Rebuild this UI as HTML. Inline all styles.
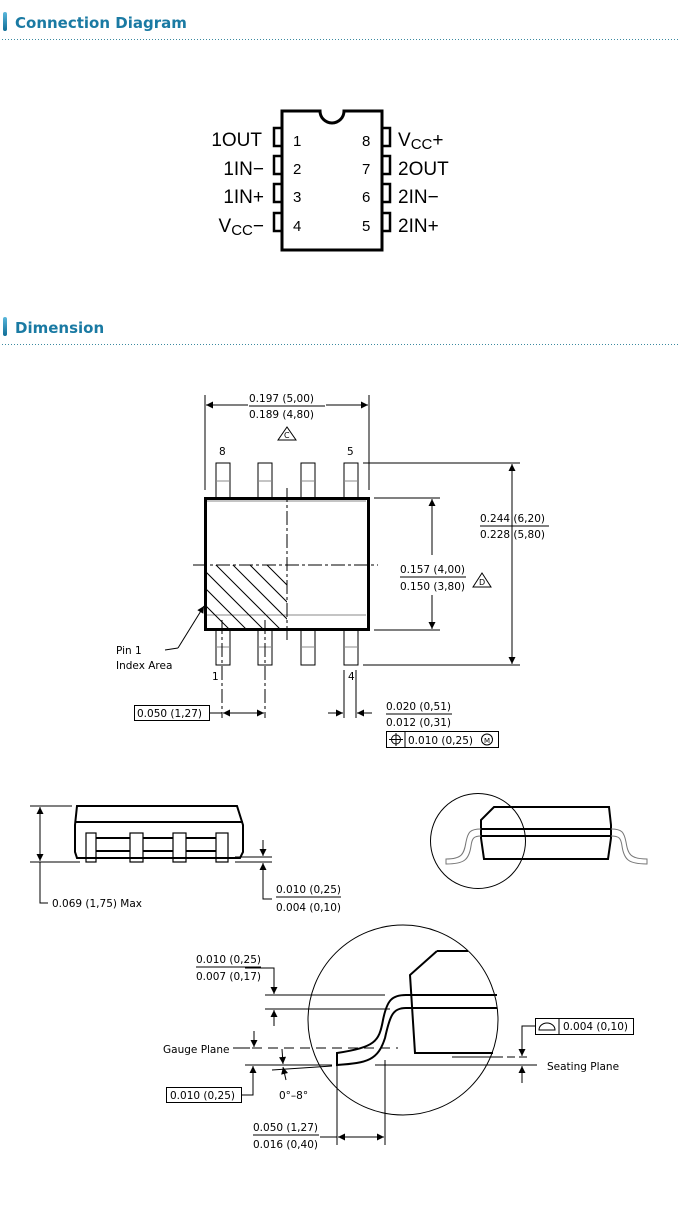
<!DOCTYPE html>
<html><head><meta charset="utf-8"><style>
html,body{margin:0;padding:0;background:#fff;}
svg{display:block;}
.h{font-family:"DejaVu Sans","Liberation Sans",sans-serif;font-weight:bold;font-size:15px;fill:#1a7aa3;}
.p{font-family:"Liberation Sans",sans-serif;font-size:19px;fill:#000;}
.n{font-family:"Liberation Sans",sans-serif;font-size:15px;fill:#000;}
.t{font-family:"DejaVu Sans","Liberation Sans",sans-serif;font-size:10.5px;fill:#000;}
</style></head><body>
<svg width="680" height="1213" viewBox="0 0 680 1213" xmlns="http://www.w3.org/2000/svg">
<defs>
<marker id="a" viewBox="0 0 10 10" refX="10" refY="5" markerWidth="9" markerHeight="7" orient="auto-start-reverse" markerUnits="userSpaceOnUse"><path d="M0,0 L10,5 L0,10 z" fill="#000"/></marker>
<linearGradient id="g" x1="0" x2="0" y1="0" y2="1"><stop offset="0" stop-color="#5bb8dc"/><stop offset="1" stop-color="#0f6d96"/></linearGradient>
<clipPath id="hc"><rect x="207" y="565" width="80" height="63"/></clipPath>
</defs>
<!-- headers -->
<rect x="3" y="12" width="4" height="19" rx="2" fill="url(#g)"/>
<text x="15" y="28" class="h">Connection Diagram</text>
<line x1="2" y1="39.5" x2="680" y2="39.5" stroke="#3c8aa0" stroke-dasharray="1,2"/>
<rect x="3" y="317" width="4" height="19" rx="2" fill="url(#g)"/>
<text x="15" y="333" class="h">Dimension</text>
<line x1="2" y1="344.5" x2="680" y2="344.5" stroke="#3c8aa0" stroke-dasharray="1,2"/>

<!-- DIP -->
<g stroke="#000" fill="none" stroke-width="3">
<path d="M282,111 H320 A12,12 0 0 0 344,111 H382 V250 H282 Z"/>
<rect x="274" y="128" width="8" height="18" stroke-width="2.5"/>
<rect x="274" y="156" width="8" height="18" stroke-width="2.5"/>
<rect x="274" y="184" width="8" height="18" stroke-width="2.5"/>
<rect x="274" y="213" width="8" height="18" stroke-width="2.5"/>
<rect x="382" y="128" width="8" height="18" stroke-width="2.5"/>
<rect x="382" y="156" width="8" height="18" stroke-width="2.5"/>
<rect x="382" y="184" width="8" height="18" stroke-width="2.5"/>
<rect x="382" y="213" width="8" height="18" stroke-width="2.5"/>
</g>
<g class="n"><text x="293" y="146">1</text><text x="293" y="174">2</text><text x="293" y="202">3</text><text x="293" y="231">4</text>
<text x="362" y="146">8</text><text x="362" y="174">7</text><text x="362" y="202">6</text><text x="362" y="231">5</text></g>
<g class="p" text-anchor="end"><text x="262" y="146">1OUT</text><text x="264" y="175">1IN−</text><text x="264" y="203">1IN+</text>
<text x="264" y="232">V<tspan font-size="15" dy="3">CC</tspan><tspan dy="-3">−</tspan></text></g>
<g class="p"><text x="398" y="146">V<tspan font-size="15" dy="3">CC</tspan><tspan dy="-3">+</tspan></text><text x="398" y="175">2OUT</text><text x="398" y="203">2IN−</text><text x="398" y="232">2IN+</text></g>

<!-- top view -->
<g stroke="#000" fill="none" stroke-width="1">
<rect x="216" y="463" width="14" height="35"/><rect x="258" y="463" width="14" height="35"/><rect x="301" y="463" width="14" height="35"/><rect x="344" y="463" width="14" height="35"/>
<rect x="216" y="630" width="14" height="35"/><rect x="258" y="630" width="14" height="35"/><rect x="301" y="630" width="14" height="35"/><rect x="344" y="630" width="14" height="35"/>
<g stroke="#888"><line x1="216" y1="481" x2="230" y2="481"/><line x1="258" y1="481" x2="272" y2="481"/><line x1="301" y1="481" x2="315" y2="481"/><line x1="344" y1="481" x2="358" y2="481"/>
<line x1="216" y1="647" x2="230" y2="647"/><line x1="258" y1="647" x2="272" y2="647"/><line x1="301" y1="647" x2="315" y2="647"/><line x1="344" y1="647" x2="358" y2="647"/>
<path d="M207,501 H366 M207,615 H366"/></g>
<g clip-path="url(#hc)" stroke="#000"><path d="M160,560 l80,80 M177,560 l80,80 M194,560 l80,80 M211,560 l80,80 M228,560 l80,80 M245,560 l80,80 M262,560 l80,80"/></g>
<rect x="205.5" y="498.5" width="163" height="131" stroke-width="3"/>
<line x1="287" y1="488" x2="287" y2="640" stroke-dasharray="14,3,3,3"/>
<line x1="193" y1="565" x2="378" y2="565" stroke-dasharray="14,3,3,3"/>
<line x1="222" y1="620" x2="222" y2="718" stroke-dasharray="14,3,3,3"/>
<line x1="265" y1="620" x2="265" y2="718" stroke-dasharray="14,3,3,3"/>
<!-- dims -->
<line x1="205" y1="395" x2="205" y2="490"/><line x1="369" y1="395" x2="369" y2="490"/>
<line x1="206" y1="405" x2="248" y2="405" marker-start="url(#a)"/><line x1="326" y1="405" x2="368" y2="405" marker-end="url(#a)"/>
<line x1="249" y1="406" x2="325" y2="406"/>
<path d="M278,440 L287,427 L296,440 Z"/>
<line x1="363" y1="463" x2="520" y2="463"/><line x1="363" y1="665" x2="520" y2="665"/>
<line x1="512" y1="464" x2="512" y2="664" marker-start="url(#a)" marker-end="url(#a)"/>
<line x1="480" y1="526" x2="549" y2="526"/>
<line x1="374" y1="498" x2="440" y2="498"/><line x1="374" y1="630" x2="440" y2="630"/>
<line x1="432" y1="499" x2="432" y2="555" marker-start="url(#a)"/><line x1="432" y1="595" x2="432" y2="629" marker-end="url(#a)"/>
<line x1="400" y1="577" x2="466" y2="577"/>
<path d="M473,587 L482,573 L491,587 Z"/>
<line x1="178" y1="648" x2="204" y2="606" marker-end="url(#a)"/><line x1="165" y1="650" x2="178" y2="648"/>
<line x1="209" y1="713" x2="222" y2="713"/>
<line x1="223" y1="713" x2="264" y2="713" marker-start="url(#a)" marker-end="url(#a)"/>
<line x1="344" y1="670" x2="344" y2="718"/><line x1="356" y1="670" x2="356" y2="718"/>
<line x1="328" y1="713" x2="343" y2="713" marker-end="url(#a)"/><line x1="357" y1="713" x2="372" y2="713" marker-start="url(#a)"/>
<line x1="386" y1="714" x2="452" y2="714"/>
<rect x="134.5" y="705.5" width="75" height="15"/>
<rect x="386.5" y="731.5" width="112" height="16"/><line x1="405" y1="731" x2="405" y2="747"/>
<circle cx="396" cy="739.5" r="4.5"/><line x1="389" y1="739.5" x2="403" y2="739.5"/><line x1="396" y1="733" x2="396" y2="746"/>
<circle cx="487" cy="739.5" r="5.5"/>
</g>
<g class="t">
<text x="249" y="402">0.197 (5,00)</text><text x="249" y="418">0.189 (4,80)</text>
<text x="284" y="438" font-size="8">C</text><text x="479" y="585" font-size="8">D</text>
<text x="219" y="455">8</text><text x="347" y="455">5</text>
<text x="480" y="522">0.244 (6,20)</text><text x="480" y="538">0.228 (5,80)</text>
<text x="400" y="573">0.157 (4,00)</text><text x="400" y="590">0.150 (3,80)</text>
<text x="116" y="654">Pin 1</text><text x="116" y="669">Index Area</text>
<text x="212" y="680">1</text><text x="348" y="680">4</text>
<text x="137" y="717">0.050 (1,27)</text>
<text x="386" y="710">0.020 (0,51)</text><text x="386" y="726">0.012 (0,31)</text>
<text x="408" y="744">0.010 (0,25)</text><text x="484" y="743" font-size="7">M</text>
</g>

<!-- side view -->
<g stroke="#000" fill="none">
<g stroke-width="1.2">
<rect x="86" y="833" width="10" height="29"/><rect x="130" y="833" width="13" height="29"/><rect x="173" y="833" width="13" height="29"/><rect x="216" y="833" width="12" height="29"/>
</g>
<g stroke-width="2">
<path d="M77,806 H237 L243,825 V852 L240,858 H77 L75,852 V825 Z"/>
<line x1="76" y1="822" x2="243" y2="822"/>
<line x1="96" y1="851" x2="130" y2="851"/><line x1="143" y1="851" x2="173" y2="851"/><line x1="186" y1="851" x2="216" y2="851"/>
<line x1="96" y1="880" x2="96" y2="880"/>
<line x1="96" y1="838" x2="130" y2="838"/><line x1="143" y1="838" x2="173" y2="838"/><line x1="186" y1="838" x2="216" y2="838"/>
</g>
<line x1="30" y1="806" x2="72" y2="806"/><line x1="30" y1="862" x2="80" y2="862"/>
<line x1="40" y1="807" x2="40" y2="861" marker-start="url(#a)" marker-end="url(#a)"/>
<path d="M40,862 V903 H48"/>
<line x1="235" y1="857" x2="272" y2="857"/><line x1="235" y1="862" x2="272" y2="862"/>
<line x1="263" y1="840" x2="263" y2="856" marker-end="url(#a)"/>
<line x1="263" y1="880" x2="263" y2="863" marker-end="url(#a)"/>
<path d="M263,880 V899 H272"/>
<line x1="276" y1="897" x2="341" y2="897"/>
<!-- right side -->
<circle cx="478" cy="841" r="47.5"/>
<path d="M494,807 H609 L611,825 V838 L608,859 H484 L481,838 V820 Z" stroke-width="2"/>
<line x1="481" y1="829" x2="611" y2="829" stroke-width="2"/><line x1="481" y1="836" x2="611" y2="836" stroke-width="2"/>
<path d="M481,829 C470,829 468,832 466,842 C464,854 462,859 446,859 V864 C464,864 469,860 471,846 C472,838 474,836 481,836" stroke="#777"/>
<path d="M611,829 C622,829 624,832 626,842 C628,854 630,859 647,859 V864 C629,864 624,860 622,846 C621,838 619,836 611,836" stroke="#777"/>
<!-- detail -->
<circle cx="403" cy="1020" r="95"/>
<g stroke-width="2">
<path d="M437,951 H468 M437,951 L410,975 L415,1053 H493"/>
<line x1="406" y1="995" x2="497" y2="995"/><line x1="406" y1="1008" x2="497" y2="1008"/>
<path d="M406,995 C392,995 387,1000 383,1020 C379,1042 375,1047 337,1053 V1065 C368,1063 378,1060 385,1038 C390,1015 393,1008 406,1008"/>
</g>
<line x1="265" y1="995" x2="385" y2="995"/><line x1="265" y1="1009" x2="390" y2="1009"/>
<path d="M245,968 H274 V994" marker-end="url(#a)"/>
<line x1="274" y1="1026" x2="274" y2="1010" marker-end="url(#a)"/>
<line x1="196" y1="967" x2="261" y2="967"/>
<line x1="233" y1="1048" x2="250" y2="1048"/>
<line x1="252" y1="1048" x2="398" y2="1048" stroke-dasharray="10,6"/>
<line x1="254" y1="1031" x2="254" y2="1047" marker-end="url(#a)"/>
<line x1="245" y1="1065" x2="332" y2="1065"/>
<path d="M241,1095 H253 V1066" marker-end="url(#a)"/>
<line x1="282" y1="1049" x2="283" y2="1064" marker-end="url(#a)"/>
<line x1="272" y1="1070" x2="332" y2="1066"/>
<line x1="286" y1="1080" x2="283" y2="1067" marker-end="url(#a)"/>
<rect x="166.5" y="1087.5" width="75" height="15"/>
<line x1="375" y1="1065" x2="537" y2="1065"/>
<line x1="452" y1="1057" x2="495" y2="1057"/><line x1="495" y1="1057" x2="530" y2="1057" stroke-dasharray="8,4"/>
<path d="M535,1026 H522 V1056" marker-end="url(#a)"/>
<line x1="522" y1="1083" x2="522" y2="1066" marker-end="url(#a)"/>
<rect x="535.5" y="1018.5" width="98" height="16"/><line x1="559" y1="1018" x2="559" y2="1034"/>
<path d="M539,1030 A8,7 0 0 1 555,1030 Z"/>
<line x1="337" y1="1065" x2="337" y2="1145"/><line x1="385" y1="1060" x2="385" y2="1145"/>
<line x1="320" y1="1137" x2="337" y2="1137"/>
<line x1="338" y1="1137" x2="384" y2="1137" marker-start="url(#a)" marker-end="url(#a)"/>
<line x1="253" y1="1135" x2="319" y2="1135"/>
</g>
<g class="t">
<text x="52" y="907">0.069 (1,75) Max</text>
<text x="276" y="893">0.010 (0,25)</text><text x="276" y="911">0.004 (0,10)</text>
<text x="196" y="963">0.010 (0,25)</text><text x="196" y="980">0.007 (0,17)</text>
<text x="163" y="1053">Gauge Plane</text>
<text x="170" y="1099">0.010 (0,25)</text>
<text x="279" y="1099">0°–8°</text>
<text x="547" y="1070">Seating Plane</text>
<text x="563" y="1030">0.004 (0,10)</text>
<text x="253" y="1131">0.050 (1,27)</text><text x="253" y="1148">0.016 (0,40)</text>
</g>
</svg>
</body></html>
